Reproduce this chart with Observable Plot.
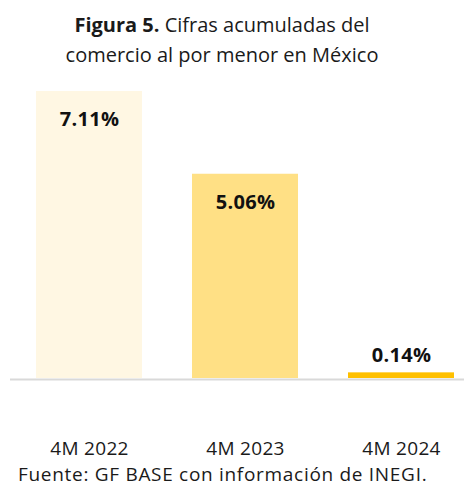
<!DOCTYPE html>
<html>
<head>
<meta charset="utf-8">
<script src="https://cdn.jsdelivr.net/npm/d3@7"></script>
<script src="https://cdn.jsdelivr.net/npm/@observablehq/plot@0.6"></script>
<style>
  html, body { margin: 0; padding: 0; background: #fff; }
  body { width: 464px; font-family: "Open Sans", sans-serif; color: #1a1a1a; }
  #title { height: 80px; box-sizing: border-box; padding-top: 10px; padding-right: 20px; text-align: center; font-size: 20px; line-height: 30px; }
  #title b { font-weight: 700; }
  #caption { font-size: 19px; line-height: 26px; letter-spacing: 0.7px; padding-left: 18px; white-space: nowrap; }
  svg { display: block; }
</style>
</head>
<body>
<div id="title"><b>Figura 5.</b> Cifras acumuladas del<br>comercio al por menor en México</div>
<div id="chart"></div>
<div id="caption">Fuente: GF BASE con información de INEGI.</div>
<script>
const categories = ["4M 2022", "4M 2023", "4M 2024"];
const values = [7.11, 5.06, 0.14];
const valueLabels = ["7.11%", "5.06%", "0.14%"];

const data = categories.map((c, i) => ({category: c, value: values[i], label: valueLabels[i]}));

const chart = Plot.plot({
  width: 464,
  height: 381,
  marginTop: 11,
  marginBottom: 83,
  marginLeft: 10,
  marginRight: 0,
  style: {fontFamily: "Open Sans, sans-serif", fontSize: "19px", color: "#1a1a1a", letterSpacing: "0.3px"},
  x: {domain: categories, range: [27, 462], paddingInner: 0.3227, paddingOuter: 0.05, label: null, tickSize: 0, tickPadding: 63},
  y: {domain: [0, 7.11], axis: null},
  color: {domain: categories, range: ["#FFF7E3", "#FFE085", "#FFC000"]},
  marks: [
    Plot.ruleY([0], {stroke: "#D9D9D9", strokeWidth: 2, dy: 1}),
    Plot.barY(data, {x: "category", y: "value", fill: "category"}),
    Plot.text(data.filter(d => d.value > 1), {x: "category", y: "value", text: "label", dy: 28, fontWeight: "bold", fontSize: 20, fill: "#111"}),
    Plot.text(data.filter(d => d.value <= 1), {x: "category", y: "value", text: "label", dy: -17, fontWeight: "bold", fontSize: 20, fill: "#111"})
  ]
});
document.getElementById("chart").append(chart);
</script>
</body>
</html>
